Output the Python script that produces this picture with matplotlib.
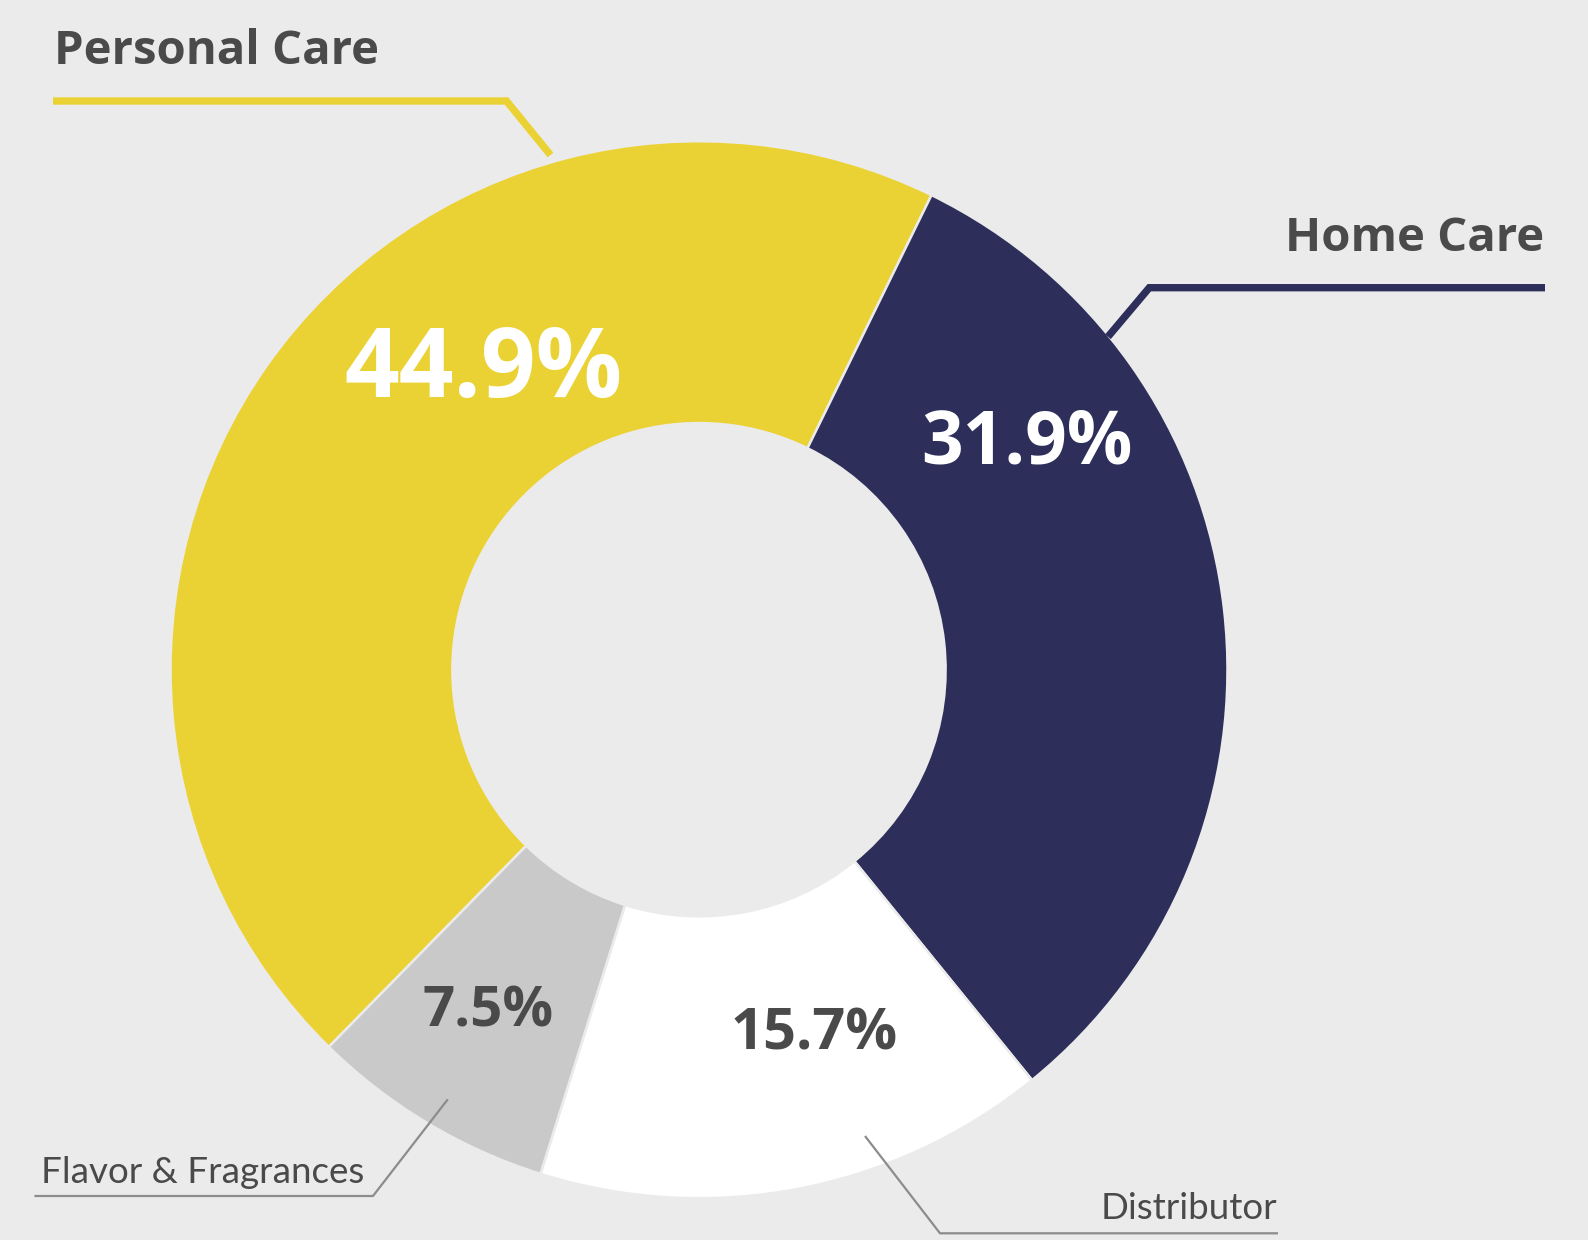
import matplotlib
matplotlib.use("Agg")
import matplotlib.pyplot as plt

# ---- data ----
categories = ["Personal Care", "Home Care", "Distributor", "Flavor & Fragrances"]
shares = [44.9, 31.9, 15.7, 7.5]
pct_labels = ["44.9%", "31.9%", "15.7%", "7.5%"]

# ---- style ----
BG = "#EBEBEB"
colors = ["#EBD234", "#2D2E5A", "#FFFFFF", "#C9C9C9"]
TXT = "#4A4A4A"
LEAD = "#8C8C8C"
W, H = 1588, 1240
DPI = 100
FONT_B = ["Open Sans", "DejaVu Sans"]
FONT = ["Lato", "DejaVu Sans"]

fig = plt.figure(figsize=(W / DPI, H / DPI), dpi=DPI, facecolor=BG)
ax = fig.add_axes([0, 0, 1, 1])
ax.set_facecolor(BG)

cx, cy = 699, 669.7
r_out, r_in = 528.5, 246.6
start_phi = 26.1 - shares[0] * 3.6
ax.pie(shares, colors=colors, center=(cx, cy), radius=r_out,
       startangle=start_phi - 90, counterclock=True,
       wedgeprops=dict(width=r_out - r_in, edgecolor=BG, linewidth=1.8),
       frame=True)

ax.set_xlim(0, W)
ax.set_ylim(H, 0)
ax.set_aspect("auto")
ax.axis("off")

# ---- percentage labels in wedges ----
pct_pos = [(483.4, 396.7), (1026.5, 463.3), (814.0, 1050.0), (488.0, 1026.7)]
pct_size = [69, 52.5, 41.5, 40.5]
pct_col = ["white", "white", TXT, TXT]
for lab, (x, y), s, c in zip(pct_labels, pct_pos, pct_size, pct_col):
    ax.text(x, y, lab, ha="center", va="baseline", fontsize=s, color=c,
            fontweight="bold", family=FONT_B, zorder=5)

# ---- leader lines ----
leaders = [
    ([53, 506.5, 550.5], [101, 101, 155], colors[0], 5.3),
    ([1545, 1149.3, 1108], [287.7, 287.7, 336.7], colors[1], 5.3),
    ([34.4, 373, 447.8], [1196, 1196, 1099.3], LEAD, 1.6),
    ([865, 940, 1278], [1136, 1233.3, 1233.3], LEAD, 1.6),
]
for xs, ys, c, lw in leaders:
    ax.plot(xs, ys, color=c, lw=lw, solid_capstyle="butt",
            solid_joinstyle="miter", zorder=4)

# ---- category labels ----
ax.text(54, 64.3, categories[0], ha="left", va="baseline", fontsize=34,
        fontweight="bold", color=TXT, family=FONT_B)
ax.text(1544, 251, categories[1], ha="right", va="baseline", fontsize=34,
        fontweight="bold", color=TXT, family=FONT_B)
ax.text(1277, 1219.3, categories[2], ha="right", va="baseline", fontsize=26.5,
        color=TXT, family=FONT)
ax.text(41, 1182.7, categories[3], ha="left", va="baseline", fontsize=26.5,
        color=TXT, family=FONT)

fig.savefig("out.png", dpi=DPI, facecolor=BG)
